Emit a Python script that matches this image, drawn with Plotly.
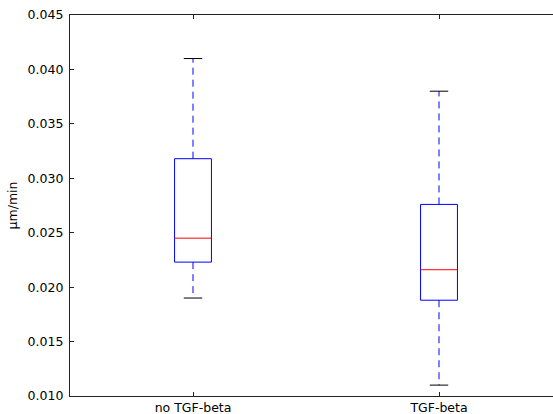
import plotly.graph_objects as go

categories = ["no TGF-beta", "TGF-beta"]
positions = [1, 2]
whisker_low = [0.019, 0.011]
q1 = [0.0223, 0.0188]
median = [0.0245, 0.0216]
q3 = [0.0318, 0.0276]
whisker_high = [0.041, 0.038]
y_ticks = [0.010, 0.015, 0.020, 0.025, 0.030, 0.035, 0.040, 0.045]

half_box = 0.075
half_cap = 0.0375

fig = go.Figure()
for i, p in enumerate(positions):
    # box
    fig.add_trace(go.Scatter(
        x=[p - half_box, p + half_box, p + half_box, p - half_box, p - half_box],
        y=[q1[i], q1[i], q3[i], q3[i], q1[i]],
        mode="lines", line=dict(color="#0000ff", width=1), hoverinfo="skip", showlegend=False))
    # whiskers
    fig.add_trace(go.Scatter(
        x=[p, p, None, p, p],
        y=[q3[i], whisker_high[i], None, q1[i], whisker_low[i]],
        mode="lines", line=dict(color="#0000ff", width=1, dash="7px,5px"),
        hoverinfo="skip", showlegend=False))
    # caps
    fig.add_trace(go.Scatter(
        x=[p - half_cap, p + half_cap, None, p - half_cap, p + half_cap],
        y=[whisker_high[i], whisker_high[i], None, whisker_low[i], whisker_low[i]],
        mode="lines", line=dict(color="black", width=1), hoverinfo="skip", showlegend=False))
    # median
    fig.add_trace(go.Scatter(
        x=[p - half_box, p + half_box], y=[median[i], median[i]],
        mode="lines", line=dict(color="#ff0000", width=1), hoverinfo="skip", showlegend=False))

fig.update_layout(
    width=553, height=414,
    margin=dict(l=70, r=0, t=15, b=18),
    plot_bgcolor="white", paper_bgcolor="white",
    font=dict(family="DejaVu Sans", size=12, color="black"),
    xaxis=dict(range=[0.5, 2.4634], tickvals=positions, ticktext=categories,
               tickfont=dict(size=12.5), automargin=False,
               showline=True, linecolor="#222222", linewidth=1.2, mirror="ticks",
               ticks="inside", ticklen=4, tickcolor="#222222", showgrid=False, zeroline=False,
               ticklabelstandoff=0),
    yaxis=dict(range=[0.010, 0.045], tickvals=y_ticks, tickformat=".3f",
               tickfont=dict(size=12.5), automargin=False,
               showline=True, linecolor="#222222", linewidth=1.2,
               ticks="inside", ticklen=4, tickcolor="#222222", showgrid=False, zeroline=False,
               ticklabelstandoff=3,
               title=dict(text="μm/min", standoff=7, font=dict(size=12.5))),
)

fig.write_html("out.html", config={"displayModeBar": False},
               post_script="document.body.style.margin='0';document.body.style.overflow='hidden';")
